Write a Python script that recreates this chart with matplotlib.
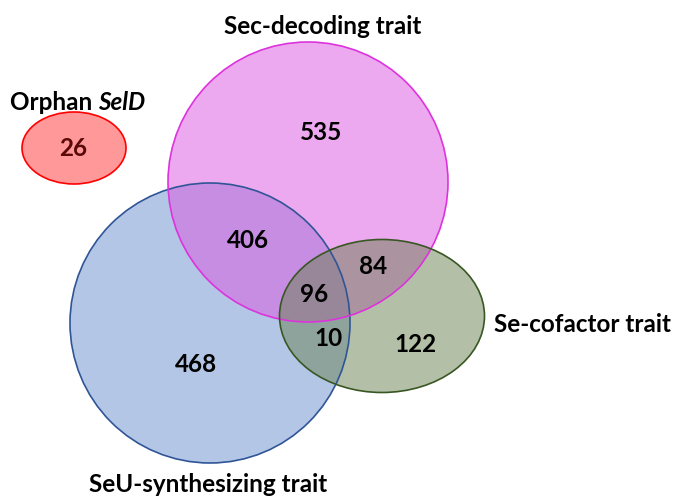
import matplotlib
matplotlib.use("Agg")
import matplotlib.pyplot as plt
from matplotlib.patches import Ellipse

plt.rcParams['font.family'] = ['Lato', 'DejaVu Sans']

# Set names and counts
set_names = ["Orphan SelD", "Sec-decoding trait", "SeU-synthesizing trait", "Se-cofactor trait"]
region_labels = ["Orphan", "Sec only", "Sec&SeU", "Sec&Cof", "all three", "SeU&Cof", "Cof only", "SeU only"]
region_counts = [26, 535, 406, 84, 96, 10, 122, 468]

W, H = 673, 496
fig = plt.figure(figsize=(W / 100, H / 100), dpi=100)
ax = fig.add_axes([0, 0, 1, 1])
ax.set_xlim(0, W)
ax.set_ylim(H, 0)
ax.set_aspect('equal')
ax.axis('off')

# shapes: (cx, cy, w, h, base colour, edge colour)
shapes = [
    (74, 148, 104, 72, '#ff3333', '#ff0000'),
    (210, 323, 280, 280, '#698fcf', '#2f5597'),
    (308, 182, 280, 280, '#dc55e0', '#dd33dd'),
    (382, 316, 205, 153, '#6b8151', '#385723'),
]
for cx, cy, w, h, fc, ec in shapes:
    ax.add_patch(Ellipse((cx, cy), w, h, facecolor=fc, alpha=0.5, edgecolor='none', zorder=1))
for cx, cy, w, h, fc, ec in shapes:
    ax.add_patch(Ellipse((cx, cy), w, h, facecolor='none', edgecolor=ec, lw=1.2, zorder=2))

fs = 17.5
num_pos = [(73, 148), (321, 133), (248, 240), (373, 267), (314, 294), (328, 338), (415, 345), (196, 365)]
for i, ((x, y), c) in enumerate(zip(num_pos, region_counts)):
    ax.text(x, y, str(c), ha='center', va='center', fontsize=fs, fontweight='bold',
            color='#5a0a0a' if i == 0 else 'black', zorder=3)

t1 = ax.text(10, 102, "Orphan ", ha='left', va='center', fontsize=fs, fontweight='bold', zorder=3)
fig.canvas.draw()
bb = t1.get_window_extent(renderer=fig.canvas.get_renderer())
x_end = ax.transData.inverted().transform((bb.x1, bb.y0))[0]
ax.text(x_end, 102, "SelD", ha='left', va='center', fontsize=fs, fontweight='bold',
        fontstyle='italic', zorder=3)

ax.text(323, 26, set_names[1], ha='center', va='center', fontsize=fs, fontweight='bold', zorder=3)
ax.text(582, 324, set_names[3], ha='center', va='center', fontsize=fs, fontweight='bold', zorder=3)
ax.text(208, 484, set_names[2], ha='center', va='center', fontsize=fs, fontweight='bold', zorder=3)

fig.savefig("out.png", dpi=100)
